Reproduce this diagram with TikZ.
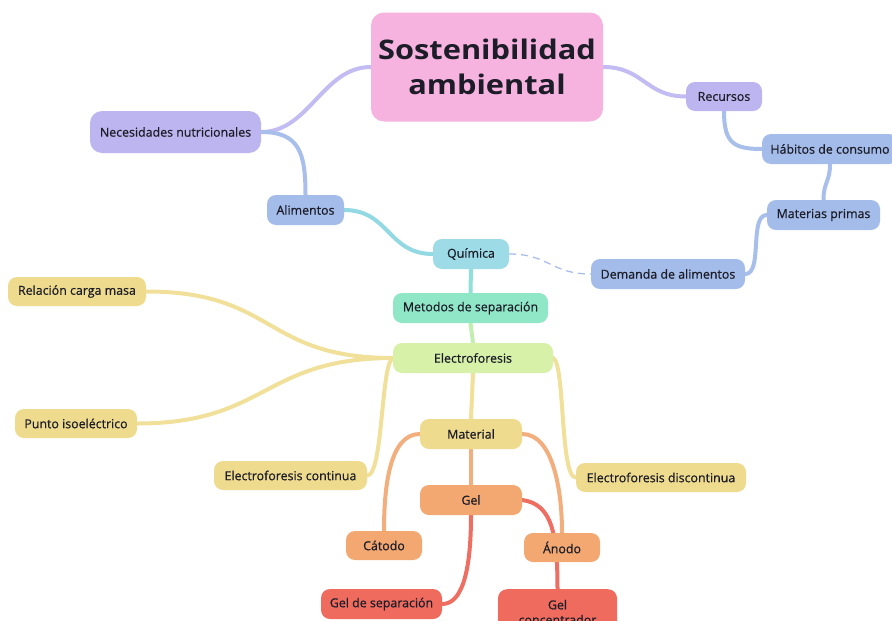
\documentclass[tikz,border=0pt]{standalone}
\usepackage{fontspec}
\setmainfont{Open Sans}
\newfontfamily\labelfont{Open Sans}[FakeBold=0.6]
\newfontfamily\titlefont{Open Sans}[FakeStretch=1.14]
\usetikzlibrary{backgrounds}
\definecolor{txt}{HTML}{1C1D28}
\definecolor{pinkf}{HTML}{F7B3DF}
\definecolor{lavf}{HTML}{BDB5EF}
\definecolor{lavl}{HTML}{C3BCF2}
\definecolor{bluef}{HTML}{A4BCEA}
\definecolor{bluel}{HTML}{A8BFEB}
\definecolor{cyanf}{HTML}{9DDCE7}
\definecolor{cyanl}{HTML}{92D9E3}
\definecolor{mintf}{HTML}{90E7C7}
\definecolor{greenf}{HTML}{D7F1A9}
\definecolor{yellf}{HTML}{EFDB8D}
\definecolor{yelll}{HTML}{F1E09A}
\definecolor{orangef}{HTML}{F2A870}
\definecolor{orangel}{HTML}{F2AE7C}
\definecolor{redf}{HTML}{EF6B5E}
\definecolor{redl}{HTML}{EE6F62}
\tikzset{
  box/.style={rounded corners=9pt, minimum height=30pt, inner sep=0pt,
    font=\labelfont\fontsize{12.4}{14}\selectfont, text=txt},
  link/.style={line width=4pt, line cap=round},
}
\begin{document}
\begin{tikzpicture}[x=1pt,y=-1pt]
\useasboundingbox (0,0) rectangle (892,621);
\clip (0,0) rectangle (892,621);

% nodes
\node[box, fill=pinkf, rounded corners=13pt, minimum width=232pt, minimum height=109pt,
  align=center, font=\titlefont\bfseries\fontsize{27}{35}\selectfont] (title) at (487,67)
  {Sostenibilidad\\ambiental};
\node[box, fill=lavf, rounded corners=12pt, minimum width=171pt, minimum height=42pt] (nec) at (175.5,132) {Necesidades nutricionales};
\node[box, fill=bluef, minimum width=77pt] (alim) at (305.5,210) {Alimentos};
\node[box, fill=lavf, minimum width=76pt, minimum height=29pt] (rec) at (724,96.5) {Recursos};
\node[box, fill=bluef, minimum width=136pt] (hab) at (830,149) {Hábitos de consumo};
\node[box, fill=bluef, minimum width=113pt] (mat) at (823.5,215) {Materias primas};
\node[box, fill=bluef, minimum width=154pt] (dem) at (668,274) {Demanda de alimentos};
\node[box, fill=cyanf, minimum width=76pt] (quim) at (471,254) {Química};
\node[box, fill=mintf, minimum width=155pt] (met) at (470.5,308) {Metodos de separación};
\node[box, fill=greenf, minimum width=160pt] (elec) at (473,358) {Electroforesis};
\node[box, fill=yellf, minimum width=138pt, minimum height=29pt] (rel) at (77,291.5) {Relación carga masa};
\node[box, fill=yellf, minimum width=122pt, minimum height=29pt] (punto) at (76,423.5) {Punto isoeléctrico};
\node[box, fill=yellf, minimum width=153pt, minimum height=29pt] (cont) at (290.5,475.5) {Electroforesis continua};
\node[box, fill=yellf, minimum width=102pt] (matl) at (471,434) {Material};
\node[box, fill=yellf, minimum width=170pt, minimum height=29pt] (disc) at (661,477.5) {Electroforesis discontinua};
\node[box, fill=orangef, minimum width=102pt] (gel) at (471,500) {Gel};
\node[box, fill=orangef, minimum width=76pt, minimum height=29pt] (cat) at (384,545.5) {Cátodo};
\node[box, fill=orangef, minimum width=76pt, minimum height=29pt] (ano) at (562,547.5) {Ánodo};
\node[box, fill=redf, minimum width=121pt] (sep) at (381.5,604) {Gel de separación};
\node[box, fill=redf, minimum width=119pt, minimum height=46pt, anchor=north,
  align=center, font=\labelfont\fontsize{12.4}{15}\selectfont] (conc) at (557.5,589) {Gel\\concentrador};

% connectors, drawn beneath the boxes
\begin{scope}[on background layer]
\fill[white] (0,0) rectangle (892,621);
\draw[link, lavl] (title.west) .. controls +(-48,0) and +(48,0) .. (nec.east);
\draw[link, lavl] (title.east) .. controls +(40,0) and +(-40,0) .. (rec.west);
\draw[link, bluel] (nec.east) .. controls +(38,0) and +(0,-42) .. (alim.north);
\draw[link, cyanl] (alim.east) .. controls +(45,0) and +(-45,0) .. (quim.west);
\draw[line width=1.3pt, bluel, dash pattern=on 7pt off 5pt] (quim.east) .. controls +(40,0) and +(-40,0) .. (dem.west);
\draw[link, bluel] (rec.south) .. controls +(0,32) and +(-28,0) .. (hab.west);
\draw[link, bluel] (hab.south) .. controls +(0,18) and +(0,-18) .. (mat.north);
\draw[link, bluel] (mat.west) .. controls +(-18,0) and +(18,0) .. (dem.east);
\draw[link, cyanl!60!mintf] (quim.south) -- (met.north);
\draw[link, greenf!70!mintf] (met.south) -- (elec.north);
\draw[link, yelll] (elec.west) .. controls +(-130,0) and +(130,0) .. (rel.east);
\draw[link, yelll] (elec.west) .. controls +(-130,0) and +(130,0) .. (punto.east);
\draw[link, yelll] (elec.west) .. controls +(-12,6) and +(16,0) .. (cont.east);
\draw[link, yelll] (elec.east) .. controls +(12,6) and +(-16,0) .. (disc.west);
\draw[link, yelll] (elec.south) -- (matl.north);
\draw[link, orangel] (matl.west) .. controls +(-30,0) and +(0,-45) .. (cat.north);
\draw[link, orangel] (matl.east) .. controls +(30,0) and +(0,-45) .. (ano.north);
\draw[link, orangel] (matl.south) -- (gel.north);
\draw[link, redl] (gel.east) .. controls +(30,4) and +(0,-55) .. (conc.north);
\draw[link, redl] (gel.south) .. controls +(0,62) and +(18,0) .. (sep.east);
\end{scope}
\end{tikzpicture}
\end{document}
